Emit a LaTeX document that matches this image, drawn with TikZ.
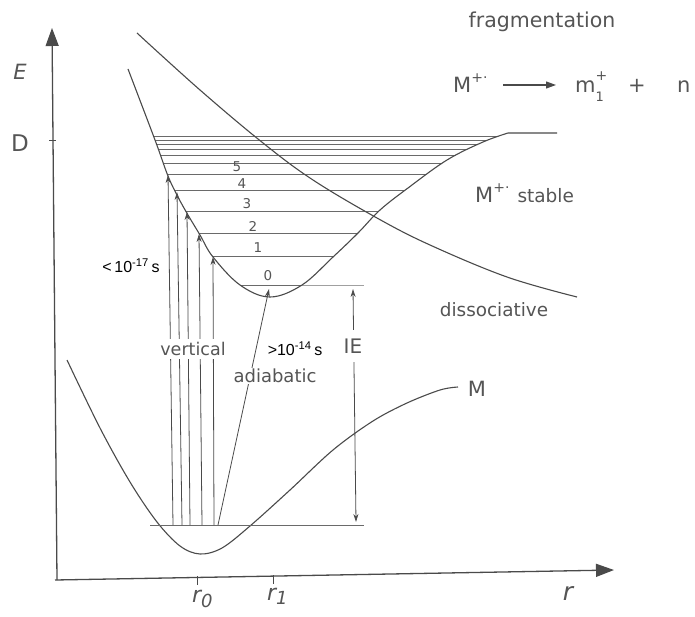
\documentclass[tikz,border=0pt]{standalone}
\usepackage{fontspec}
\setmainfont{DejaVu Sans}
\newfontfamily\arial{Liberation Sans}
\usetikzlibrary{arrows.meta}
\definecolor{ln}{HTML}{4a4a4a}
\definecolor{lv}{HTML}{6a6a6a}
\definecolor{lt}{HTML}{a0a0a0}
\definecolor{tx}{HTML}{555555}
\begin{document}
\begin{tikzpicture}[x=1pt,y=-1pt,
  curve/.style={ln, line width=1.1pt},
  level/.style={lv, line width=0.9pt},
  vert/.style={ln, line width=0.8pt, -{Stealth[length=8pt,width=5pt]}},
  axisline/.style={ln, line width=1.3pt, -{Triangle[length=18pt,width=13pt]}},
  lbl/.style={text=tx, inner sep=1pt},
  fsz/.style={font=\fontsize{#1}{#1}\selectfont},
  blk/.style={text=black, inner sep=1pt, font=\arial\fontsize{16}{16}\selectfont},
]
\useasboundingbox (0,0) rectangle (695,617);

% axes
\coordinate (yb) at (57,580);
\coordinate (yt) at (52,28);
\coordinate (xl) at (55,580);
\coordinate (xr) at (614,570);
\draw[axisline] (yb) -- (yt);
\draw[axisline] (xl) -- (xr);
\coordinate (dt1) at (49,140); \coordinate (dt2) at (56,140);
\draw[ln, line width=0.9pt] (dt1) -- (dt2);
\coordinate (t0a) at (197,576); \coordinate (t0b) at (197,585);
\coordinate (t1a) at (273,575); \coordinate (t1b) at (273,584);
\draw[ln, line width=0.9pt] (t0a) -- (t0b);
\draw[ln, line width=0.9pt] (t1a) -- (t1b);

\node[lbl, font=\itshape\fontsize{21}{21}\selectfont] (E) at (20,72) {E};
\node[lbl, fsz=23] (D) at (20,143) {D};
\node[lbl, font=\itshape\fontsize{22}{22}\selectfont, anchor=base west] (r0) at (191,602) {r\raisebox{-5pt}{\fontsize{18}{18}\selectfont 0}};
\node[lbl, font=\itshape\fontsize{22}{22}\selectfont, anchor=base west] (r1) at (266,600) {r\raisebox{-4pt}{\fontsize{18}{18}\selectfont 1}};
\node[lbl, font=\itshape\fontsize{25}{25}\selectfont] (rr) at (568,593) {r};

% vibrational levels of M+.
\begin{scope}
\clip plot[smooth, tension=0.6] coordinates {(128,69) (155,140) (168,176) (178,197) (188,215) (200,235) (213,257) (240,285) (270,297) (302,285) (333,257) (358,233) (380,210) (408,188) (447,160) (483,142) (508,133)} -- (508,100) -- (128,100) -- cycle;
\foreach \yy in {136,140,144,149,155,163,174,190,211,233,256,285}
  \draw[level] (100,\yy) -- (560,\yy);
\end{scope}
\coordinate (l0a) at (302,285); \coordinate (l0b) at (364,285);
\draw[lt, line width=0.9pt] (l0a) -- (l0b);

% ion potential curve
\draw[curve] plot[smooth, tension=0.6] coordinates {(128,69) (155,140) (168,176) (178,197) (188,215) (200,235) (213,257) (240,285) (270,297) (302,285) (333,257) (358,233) (380,210) (408,188) (447,160) (483,142) (508,133)} -- (557,133);

% dissociative curve
\draw[curve] plot[smooth, tension=0.6] coordinates {(137,33) (200,90) (263,143) (313,180) (377,218) (430,245) (507,277) (577,297)};

% neutral M curve
\draw[curve] plot[smooth, tension=0.55] coordinates {(67,360) (100,428) (130,482) (157,522) (180,546) (200,554) (222,548) (250,526) (290,490) (333,450) (373,421) (407,403) (440,390) (458,387)};

% ground level
\coordinate (g0a) at (150,525); \coordinate (g0b) at (364,525);
\draw[level] (g0a) -- (g0b);

% level numbers
\foreach \n/\px/\py in {0/268/276, 1/258/248, 2/253/226, 3/247/204, 4/242/184, 5/237/167}
  \node[lbl, fsz=13.5] (n\n) at (\px,\py) {\n};

% vertical transitions
\foreach \i/\xb/\xt/\yt in {a/173/168/175, b/182/177/192, c/190/187/212, d/202/199/234, e/214/213/257}{
  \coordinate (vb\i) at (\xb,525);
  \coordinate (vt\i) at (\xt,\yt);
  \draw[vert] (vb\i) -- (vt\i);
}
% adiabatic
\coordinate (adb) at (218,525); \coordinate (adt) at (269,289);
\draw[vert] (adb) -- (adt);

% IE arrow
\coordinate (iet) at (353,289); \coordinate (ieb) at (356,522);
\draw[ln, line width=0.8pt, {Stealth[length=8pt,width=5pt]}-{Stealth[length=8pt,width=5pt]}] (iet) -- (ieb);
\node[lbl, fill=white, inner xsep=2pt, inner ysep=9pt, fsz=20] (IE) at (353,346) {IE};

% labels
\node[lbl, fill=white, inner sep=3pt, fsz=17.5] (vl) at (193,349) {vertical};
\node[lbl, fill=white, inner sep=1pt, fsz=18] (ad) at (275,376) {adiabatic};
\node[blk] (t17) at (131,266) {<\,10\textsuperscript{-17}\,s};
\node[blk] (t14) at (295,349) {>10\textsuperscript{-14}\,s};
\node[lbl, fsz=18.4] (dis) at (494,310) {dissociative};
\node[lbl, fsz=21] (Mn) at (477,389) {M};
\node[lbl, fsz=20.5] (frag) at (542,22) {fragmentation};

% M+. stable
\node[lbl, anchor=base west, fsz=21] (Ms) at (474,203) {M\raisebox{10pt}{\fontsize{14}{14}\selectfont +·}\hspace{8pt}{\fontsize{18.5}{18.5}\selectfont stable}};

% fragmentation equation
\node[lbl, anchor=base west, fsz=21] (Mp) at (452,93) {M\raisebox{10pt}{\fontsize{14}{14}\selectfont +·}};
\coordinate (ar1) at (503,85); \coordinate (ar2) at (556,85);
\draw[ln, line width=1.1pt, -{Triangle[length=10pt,width=7pt]}] (ar1) -- (ar2);
\node[lbl, anchor=base west, fsz=21] (m1) at (574,93) {m\rlap{\raisebox{12pt}{\fontsize{14}{14}\selectfont +}}\raisebox{-9pt}{\fontsize{13}{13}\selectfont 1}};
\node[lbl, anchor=base, fsz=21] (pl) at (637,93) {+};
\node[lbl, anchor=base west, fsz=21] (nn) at (676,93) {n};
\end{tikzpicture}
\end{document}
